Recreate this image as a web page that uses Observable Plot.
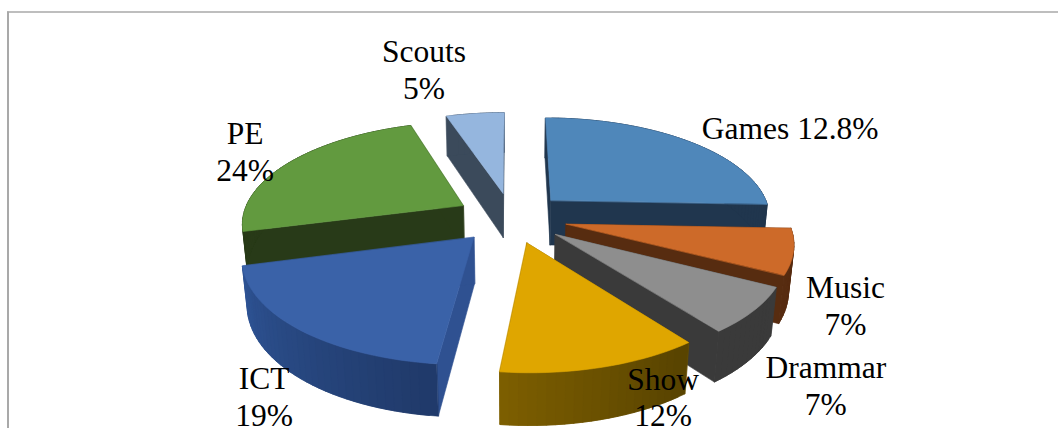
<!DOCTYPE html>
<html>
<head>
<meta charset="utf-8">
<style>html,body{margin:0;padding:0;background:#fff;overflow:hidden}</style>
<script src="https://cdn.jsdelivr.net/npm/d3@7"></script>
<script src="https://cdn.jsdelivr.net/npm/@observablehq/plot@0.6"></script>
</head>
<body>
<div id="chart"></div>
<script>
// Data
const categories = ["Games", "Music", "Drammar", "Show", "ICT", "PE", "Scouts"];
const sliceShares = [25.5, 7, 7, 12, 19, 24, 5];      // drawn share of each slice
const labelValues = ["12.8%", "7%", "7%", "12%", "19%", "24%", "5%"]; // printed text

// Styles
const topColors   = ["#4f87ba", "#cd6a29", "#8e8e8e", "#dfa600", "#3a62a8", "#629a3f", "#95b6de"];
const wallColors  = ["#20364e", "#572c10", "#3a3a3a", "#7f6000", "#2f5191", "#283a18", "#3b4a5b"];
const rimDark     = ["#20364e", "#572c10", "#3a3a3a", "#584300", "#203a6a", "#283a18", "#3b4a5b"];
const rimLight    = ["#20364e", "#572c10", "#3a3a3a", "#7f6000", "#2f5597", "#283a18", "#3b4a5b"];
// label offset from the slice's projected rim midpoint
const labelShift  = [[103, -14], [52, 53], [72, 74], [61, 29], [-35, 66], [-44, -12], [-51, -45]];
const labelOneLine = [true, false, false, false, false, false, false];

// 3D view of the exploded pie
const view = {cx: 511, cy: 217, radius: 221, explode: 56, depth: 52, tilt: 27 * Math.PI / 180, camera: 1250};
function project(u, v, h) {
  const z = -v * Math.cos(view.tilt) + h * Math.sin(view.tilt);
  const s = view.camera / (view.camera + z);
  return [view.cx + u * s, view.cy + (v * Math.sin(view.tilt) + h * Math.cos(view.tilt)) * s];
}

const total = d3.sum(sliceShares);
let acc = 0;
const slices = categories.map((name, i) => {
  const a0 = acc / total * 2 * Math.PI;
  acc += sliceShares[i];
  const a1 = acc / total * 2 * Math.PI;
  const mid = (a0 + a1) / 2;
  return {name, i, a0, a1, mid,
    ox: view.explode * Math.sin(mid), oy: -view.explode * Math.cos(mid)};
});
function rim(sl, a, h) {
  return project(sl.ox + view.radius * Math.sin(a), sl.oy - view.radius * Math.cos(a), h);
}
function apex(sl, h) { return project(sl.ox, sl.oy, h); }

const faces = [];
function addFace(id, pts, fill) {
  pts.forEach(([x, y]) => faces.push({id, x, y, fill}));
}
// back-to-front order
const order = [...slices].sort((p, q) => p.oy - q.oy);
for (const sl of order) {
  const d = view.depth, k = sl.i, steps = Math.ceil((sl.a1 - sl.a0) / (2 * Math.PI / 180));
  const step = (sl.a1 - sl.a0) / steps;
  addFace(`w0-${k}`, [apex(sl, 0), rim(sl, sl.a0, 0), rim(sl, sl.a0, d), apex(sl, d)], wallColors[k]);
  addFace(`w1-${k}`, [apex(sl, 0), rim(sl, sl.a1, 0), rim(sl, sl.a1, d), apex(sl, d)], wallColors[k]);
  const mix = d3.interpolateRgb(rimDark[k], rimLight[k]);
  // strips overlap the next one so no seams show; painted from the far end backwards
  for (let j = steps - 1; j >= 0; j--) {
    const p = sl.a0 + step * j, q = Math.min(sl.a1, p + step * 2);
    addFace(`r-${k}-${j}`, [rim(sl, p, 0), rim(sl, q, 0), rim(sl, q, d), rim(sl, p, d)], mix((j + 0.5) / steps));
  }
  const top = [apex(sl, 0)];
  for (let j = 0; j <= steps; j++) top.push(rim(sl, sl.a0 + step * j, 0));
  addFace(`t-${k}`, top, topColors[k]);
}

const labels = slices.map(sl => {
  const [x, y] = rim(sl, sl.mid, 0);
  const [dx, dy] = labelShift[sl.i];
  const sep = labelOneLine[sl.i] ? " " : "\n";
  return {x: x + dx, y: y + dy, text: sl.name + sep + labelValues[sl.i]};
});

const W = 1058, H = 428;
const chart = Plot.plot({
  width: W, height: H,
  margin: 0,
  x: {domain: [0, W], range: [0, W], axis: null},
  y: {domain: [0, H], range: [0, H], axis: null},
  color: {type: "identity"},
  style: {background: "#fff"},
  marks: [
    Plot.ruleX([7.5], {y1: 11.5, y2: H, stroke: "#a9a9a9", strokeWidth: 2}),
    Plot.ruleY([11.5], {x1: 7, x2: W, stroke: "#a9a9a9", strokeWidth: 1.4}),
    Plot.line(faces, {x: "x", y: "y", z: "id", fill: "fill", stroke: "fill", strokeWidth: 0.6, curve: "linear-closed"}),
    Plot.text(labels, {x: "x", y: "y", text: "text", fill: "#000", fontFamily: "Liberation Serif", fontSize: 31.5, lineHeight: 1.17, textAnchor: "middle"})
  ]
});
document.getElementById("chart").appendChild(chart);
</script>
</body>
</html>
